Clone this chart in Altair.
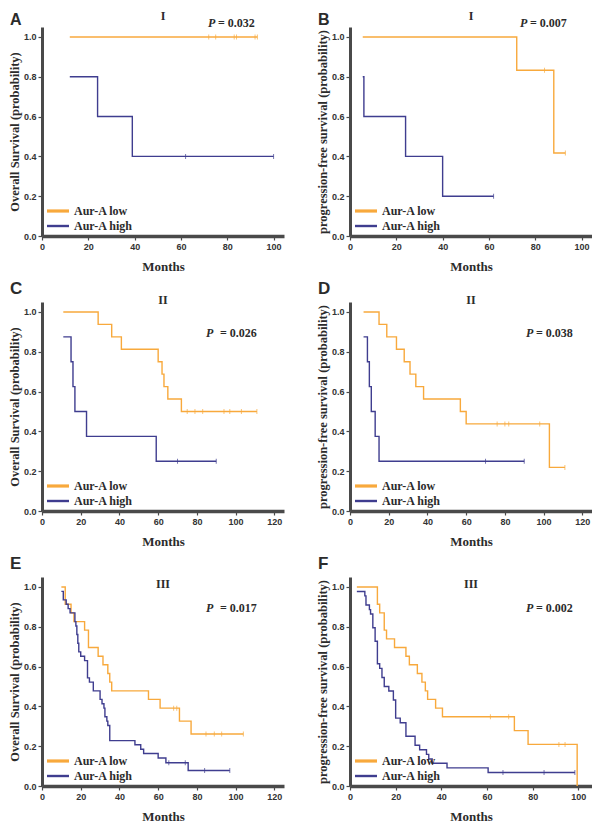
import altair as alt
import pandas as pd

ORANGE = "#F8A93C"
BLUE = "#3F3D8F"
AXIS = "#4A4A4A"
TXT = "#2b2b2b"

LABELS = ["Aur-A low", "Aur-A high"]
Y_TICKS = [0.0, 0.2, 0.4, 0.6, 0.8, 1.0]
X_TICKS_100 = [0, 20, 40, 60, 80, 100]
X_TICKS_120 = [0, 20, 40, 60, 80, 100, 120]

OS_TITLE = "Overall Survival (probability)"
PFS_TITLE = "progression-free survival (probability)"

# ---- Panel A : OS, stage I ----
A_LOW_T = [12, 93]
A_LOW_S = [1.0, 1.0]
A_LOW_C = [72, 75, 83, 84, 92, 93]
A_HIGH_T = [12, 24, 39, 100]
A_HIGH_S = [0.8, 0.6, 0.4, 0.4]
A_HIGH_C = [62, 100]

# ---- Panel B : PFS, stage I ----
B_LOW_T = [5.5, 72, 88, 93]
B_LOW_S = [1.0, 0.833, 0.417, 0.417]
B_LOW_C = [84, 93]
B_HIGH_T = [5.5, 6, 24, 40, 62]
B_HIGH_S = [0.8, 0.6, 0.4, 0.2, 0.2]
B_HIGH_C = [62]

# ---- Panel C : OS, stage II ----
C_LOW_T = [11, 29, 36, 41, 60, 62, 63, 65, 72, 111]
C_LOW_S = [1.0, 0.9375, 0.875, 0.8125, 0.75, 0.6875, 0.625, 0.5625, 0.5, 0.5]
C_LOW_C = [75, 79, 83, 94, 97, 103, 111]
C_HIGH_T = [11, 15, 16, 17, 23, 59, 90]
C_HIGH_S = [0.875, 0.75, 0.625, 0.5, 0.375, 0.25, 0.25]
C_HIGH_C = [70, 90]

# ---- Panel D : PFS, stage II ----
D_LOW_T = [7, 15, 19, 24, 28, 31, 34, 38, 57, 60, 103, 111]
D_LOW_S = [1.0, 0.9375, 0.875, 0.8125, 0.75, 0.6875, 0.625, 0.5625, 0.5, 0.4375, 0.219, 0.219]
D_LOW_C = [76, 80, 82, 98, 111]
D_HIGH_T = [7, 9, 10, 11, 13, 15, 90]
D_HIGH_S = [0.875, 0.75, 0.625, 0.5, 0.375, 0.25, 0.25]
D_HIGH_C = [70, 90]

# ---- Panel E : OS, stage III ----
E_LOW_T = [10, 12, 15, 16.5, 22, 24, 29, 31.5, 34, 35, 36, 55, 61, 71, 77, 104]
E_LOW_S = [1.0, 0.913, 0.870, 0.826, 0.783, 0.696, 0.652, 0.609, 0.565, 0.522, 0.478,
           0.435, 0.391, 0.326, 0.261, 0.261]
E_LOW_C = [68, 69.6, 84.7, 89, 92.8, 104]
E_HIGH_T = [10, 11, 12.5, 13.5, 14.5, 17, 17.5, 18, 18.5, 19, 20, 22, 23.5, 24.5, 26.5,
            30, 31, 32, 32.5, 33.5, 34, 35, 48, 51, 52.5, 60, 64, 75.5, 97]
E_HIGH_S = [0.978, 0.935, 0.913, 0.891, 0.870, 0.826, 0.804, 0.761, 0.717, 0.674, 0.652,
            0.630, 0.543, 0.522, 0.478, 0.435, 0.413, 0.391, 0.348, 0.326, 0.304, 0.228,
            0.207, 0.185, 0.163, 0.141, 0.117, 0.078, 0.078]
E_HIGH_C = [65.5, 74, 84, 97]

# ---- Panel F : PFS, stage III ----
F_LOW_T = [3, 12, 13, 15, 16, 19.5, 24.5, 26, 29.5, 31.5, 33, 34, 37.5, 40.5, 72, 78, 99.5]
F_LOW_S = [1.0, 0.913, 0.870, 0.783, 0.739, 0.696, 0.652, 0.609, 0.565, 0.522, 0.478,
           0.435, 0.391, 0.348, 0.278, 0.209, 0.0]
F_LOW_C = [61.5, 69.5, 91.5, 94.2]
F_HIGH_T = [3, 6.5, 7, 8.5, 9, 10, 11, 12, 13, 14, 15, 17, 19, 20, 22, 24.5, 28.5, 30.5,
            33.5, 34.5, 36, 42.5, 60.5, 98.5]
F_HIGH_S = [0.977, 0.955, 0.909, 0.886, 0.864, 0.795, 0.727, 0.614, 0.591, 0.545, 0.5,
            0.477, 0.432, 0.341, 0.318, 0.25, 0.205, 0.182, 0.159, 0.136, 0.114, 0.091,
            0.068, 0.068]
F_HIGH_C = [67, 85, 98.5]

PANELS = [
    dict(letter="A", stage="I", p="0.032", pgap=10, ytitle=OS_TITLE, xmax=104.5, xticks=X_TICKS_100,
         low=(A_LOW_T, A_LOW_S, A_LOW_C), high=(A_HIGH_T, A_HIGH_S, A_HIGH_C), row=0, px=166),
    dict(letter="B", stage="I", p="0.007", pgap=10, ytitle=PFS_TITLE, xmax=104.5, xticks=X_TICKS_100,
         low=(B_LOW_T, B_LOW_S, B_LOW_C), high=(B_HIGH_T, B_HIGH_S, B_HIGH_C), row=0, px=170),
    dict(letter="C", stage="II", p="0.026", pgap=14, ytitle=OS_TITLE, xmax=125, xticks=X_TICKS_120,
         low=(C_LOW_T, C_LOW_S, C_LOW_C), high=(C_HIGH_T, C_HIGH_S, C_HIGH_C), row=1, px=164),
    dict(letter="D", stage="II", p="0.038", pgap=10, ytitle=PFS_TITLE, xmax=125, xticks=X_TICKS_120,
         low=(D_LOW_T, D_LOW_S, D_LOW_C), high=(D_HIGH_T, D_HIGH_S, D_HIGH_C), row=1, px=176),
    dict(letter="E", stage="III", p="0.017", pgap=14, ytitle=OS_TITLE, xmax=125, xticks=X_TICKS_120,
         low=(E_LOW_T, E_LOW_S, E_LOW_C), high=(E_HIGH_T, E_HIGH_S, E_HIGH_C), row=2, px=164),
    dict(letter="F", stage="III", p="0.002", pgap=10, ytitle=PFS_TITLE, xmax=106, xticks=X_TICKS_100,
         low=(F_LOW_T, F_LOW_S, F_LOW_C), high=(F_HIGH_T, F_HIGH_S, F_HIGH_C), row=2, px=176),
]

W = 242
H = 209
TITLE_Y = [-11, -2, 7]
LETTER_Y = [-7, -13, -13]
LETTER_SIZE = [16, 17, 17]
P_Y = [-4, 31, 31]


def step_value(ts, ss, t):
    v = ss[0]
    for ti, si in zip(ts, ss):
        if ti <= t:
            v = si
    return v


def text_layer(txt, x, y, font, size, weight="bold", style="normal", align="left", color=TXT):
    return alt.Chart(pd.DataFrame({"txt": [txt]})).mark_text(
        font=font, fontSize=size, fontWeight=weight, fontStyle=style,
        align=align, baseline="middle", color=color
    ).encode(text="txt:N", x=alt.value(x), y=alt.value(y))


def panel(p):
    rows, cens = [], []
    for g, (ts, ss, cs) in zip(LABELS, [p["low"], p["high"]]):
        for i, (t, s) in enumerate(zip(ts, ss)):
            rows.append({"group": g, "t": t, "s": s, "i": i})
        for c in cs:
            cens.append({"group": g, "t": c, "s": step_value(ts, ss, c)})
    xscale = alt.Scale(domain=[0, p["xmax"]], nice=False, zero=True)
    yscale = alt.Scale(domain=[0, 1.05], nice=False)
    cscale = alt.Scale(domain=LABELS, range=[ORANGE, BLUE])
    x = alt.X("t:Q", scale=xscale,
              axis=alt.Axis(values=p["xticks"], title="Months", format="d"))
    y = alt.Y("s:Q", scale=yscale,
              axis=alt.Axis(values=Y_TICKS, title=p["ytitle"], format=".1f"))
    color = alt.Color("group:N", scale=cscale, legend=None)

    lines = alt.Chart(pd.DataFrame(rows)).mark_line(
        interpolate="step-after", strokeWidth=1.4
    ).encode(x=x, y=y, color=color, order="i:Q")
    ticks = alt.Chart(pd.DataFrame(cens)).mark_tick(
        orient="vertical", size=5, thickness=1
    ).encode(x=x, y=y, color=color)

    layers = [lines, ticks]
    # legend (inside bottom-left)
    for k, (g, c, sw) in enumerate(zip(LABELS, [ORANGE, BLUE], [3.2, 2.4])):
        ly = H - 25 + 15 * k
        layers.append(
            alt.Chart(pd.DataFrame({"group": [g]})).mark_rule(strokeWidth=sw, color=c)
            .encode(x=alt.value(5), x2=alt.value(27), y=alt.value(ly))
        )
        layers.append(text_layer(g, 32, ly, "Liberation Serif", 12))
    r = p["row"]
    layers.append(text_layer(p["letter"], -32, LETTER_Y[r], "Liberation Sans", LETTER_SIZE[r]))
    layers.append(text_layer(p["stage"], W / 2, TITLE_Y[r], "Liberation Serif", 12, align="center"))
    layers.append(text_layer("P", p["px"], P_Y[r], "Liberation Serif", 12, style="italic"))
    layers.append(text_layer("= " + p["p"], p["px"] + p["pgap"], P_Y[r], "Liberation Serif", 12))
    return alt.layer(*layers).properties(width=W, height=H)


charts = [panel(p) for p in PANELS]
chart = alt.concat(*charts, columns=2, spacing={"row": 66, "column": 66}, bounds="flush").properties(
    padding={"left": 0, "top": 2, "right": 0, "bottom": 0}
).configure_view(stroke=None).configure_axis(
    grid=False,
    domainColor=AXIS, domainWidth=3,
    tickColor=AXIS, tickWidth=1.2, tickSize=4,
    labelFont="Liberation Sans", labelFontWeight="bold", labelFontSize=9, labelColor="#333333",
    labelFlush=False, labelOverlap=False,
    titleFont="Liberation Serif", titleFontWeight="bold", titleFontSize=12.5, titleColor=TXT,
).configure_axisX(
    domainWidth=3.5, labelPadding=2, titlePadding=9, titleFontSize=13
).configure_axisY(
    labelPadding=2, titlePadding=2
)

chart.save("out.html", embed_options={"renderer": "svg", "actions": False})
